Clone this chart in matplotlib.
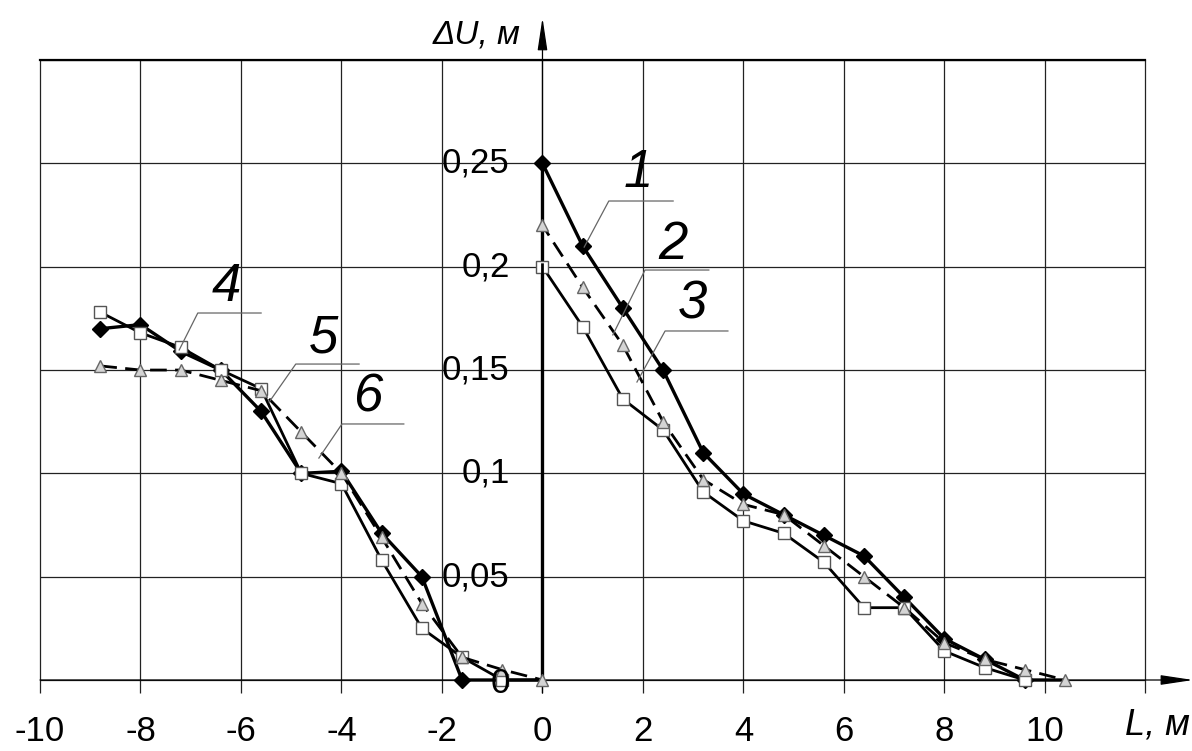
import matplotlib
matplotlib.use("Agg")
import matplotlib.pyplot as plt

plt.rcParams['font.family'] = ['Liberation Sans', 'DejaVu Sans']
plt.rcParams['axes.unicode_minus'] = False

# distances along the profile, m
L_right = [0.0, 0.8, 1.6, 2.4, 3.2, 4.0, 4.8, 5.6, 6.4, 7.2, 8.0, 8.8, 9.6, 10.4]
L_left = [-8.8, -8.0, -7.2, -6.4, -5.6, -4.8, -4.0, -3.2, -2.4, -1.6, -0.8, 0.0]

# right side curves 1-3
u1 = [0.25, 0.21, 0.18, 0.15, 0.11, 0.09, 0.08, 0.07, 0.06, 0.04, 0.02, 0.01, 0.0, 0.0]
u2 = [0.22, 0.19, 0.162, 0.125, 0.097, 0.085, 0.08, 0.065, 0.05, 0.035, 0.018, 0.01, 0.005, 0.0]
u3 = [0.20, 0.171, 0.136, 0.121, 0.091, 0.077, 0.071, 0.057, 0.035, 0.035, 0.014, 0.006, 0.0]

# left side curves 4-6
u4 = [0.178, 0.168, 0.161, 0.15, 0.141, 0.100, 0.095, 0.058, 0.025, 0.011, 0.0, 0.0]
u5 = [0.170, 0.172, 0.159, 0.150, 0.130, 0.100, 0.101, 0.071, 0.050, 0.0, 0.0, 0.0]
u6 = [0.152, 0.150, 0.150, 0.145, 0.140, 0.120, 0.100, 0.069, 0.037, 0.011, 0.005, 0.0]

x_ticks = [-10, -8, -6, -4, -2, 0, 2, 4, 6, 8, 10, 12]
x_ticklabels = ['-10', '-8', '-6', '-4', '-2', '0', '2', '4', '6', '8', '10', '']
y_grid = [0.0, 0.05, 0.1, 0.15, 0.2, 0.25, 0.3]
y_ticks = [0.25, 0.2, 0.15, 0.1, 0.05, 0.0]
y_ticklabels = ['0,25', '0,2', '0,15', '0,1', '0,05', '0']

# curve number, text position, leader line (end of shelf, knee, point on curve)
callouts = [
    ('1', (1.90, 0.2453), [(2.60, 0.2318), (1.32, 0.2318), (0.83, 0.2095)]),
    ('2', (2.60, 0.2105), [(3.31, 0.1984), (2.04, 0.1984), (1.40, 0.1670)]),
    ('3', (2.98, 0.1815), [(3.69, 0.1689), (2.44, 0.1689), (1.88, 0.1442)]),
    ('4', (-6.30, 0.1900), [(-5.60, 0.1776), (-6.86, 0.1776), (-7.23, 0.1597)]),
    ('5', (-4.35, 0.1655), [(-3.65, 0.1529), (-4.91, 0.1529), (-5.44, 0.1345)]),
    ('6', (-3.47, 0.1369), [(-2.76, 0.1239), (-3.99, 0.1239), (-4.45, 0.1074)]),
]

fig = plt.figure(figsize=(11.92, 7.51), dpi=100)
ax = fig.add_axes([0.03356, 0.0772, 0.9274, 0.8428])
ax.set_xlim(-10, 12)
ax.set_ylim(-0.0063, 0.3)
for s in ['left', 'right', 'bottom']:
    ax.spines[s].set_visible(False)
ax.spines['top'].set_linewidth(1.6)
ax.set_yticks([])
ax.set_xticks(x_ticks, x_ticklabels, fontsize=25)
ax.tick_params(axis='x', length=0, pad=16)

# grid drawn by hand so the vertical lines poke below zero
ax.vlines(x_ticks, -0.0063, 0.3, colors='#222222', lw=0.9, zorder=1, clip_on=False)
ax.hlines(y_grid, -10, 12, colors='#222222', lw=0.9, zorder=1, clip_on=False)

# axes with arrows
arr = dict(arrowstyle='-|>,head_length=1.0,head_width=0.15', lw=0.9, color='black',
           mutation_scale=20, shrinkA=0, shrinkB=0)
ax.annotate('', xy=(12.95, 0), xytext=(-10, 0), arrowprops=arr, annotation_clip=False, zorder=2)
ax.annotate('', xy=(0, 0.3205), xytext=(0, -0.0063), arrowprops=arr, annotation_clip=False, zorder=2)

# right curves start from zero on the axis
xr = [L_right[0]] + L_right
ax.plot(xr, [0] + u1, color='black', lw=2.4, marker='D', ms=8, mfc='black', mec='black',
        markevery=list(range(1, len(u1))), zorder=3, clip_on=False)
ax.plot(xr[:len(u3) + 1], [0] + u3, color='black', lw=2.0, marker='s', ms=8, mfc='white',
        mec='#555555', markevery=list(range(1, len(u3) + 1)), zorder=4, clip_on=False)
ax.plot(xr, [0] + u2, color='black', lw=2.0, ls=(0, (6, 3)), marker='^', ms=8.5, mfc='#d4d4d4',
        mec='#666666', markevery=list(range(1, len(u2) + 1)), zorder=5, clip_on=False)

# left curves
ax.plot(L_left, u5, color='black', lw=2.4, marker='D', ms=8, mfc='black', mec='black',
        markevery=list(range(0, 10)), zorder=3, clip_on=False)
ax.plot(L_left, u4, color='black', lw=2.0, marker='s', ms=8, mfc='white', mec='#555555',
        markevery=list(range(0, 11)), zorder=4, clip_on=False)
ax.plot(L_left, u6, color='black', lw=2.0, ls=(0, (6, 3)), marker='^', ms=8.5, mfc='#d4d4d4',
        mec='#666666', zorder=5, clip_on=False)

# y labels sit next to the axis line
for v, t in zip(y_ticks, y_ticklabels):
    ax.text(-0.65, v + (-0.0015 if v == 0 else 0), t, fontsize=25, ha='right', va='center',
            zorder=6)

# curve numbers with leaders
for num, (tx, ty), pts in callouts:
    ax.text(tx, ty, num, fontsize=38, style='italic', ha='center', va='center', zorder=6)
    ax.plot([p[0] for p in pts], [p[1] for p in pts], color='#666666', lw=0.9, zorder=6)

ax.text(-0.43, 0.3082, 'ΔU, м', fontsize=24, style='italic', ha='right', va='baseline',
        clip_on=False)
ax.text(11.59, -0.0262, 'L, м', fontsize=26, style='italic', ha='left', va='baseline',
        clip_on=False)

fig.savefig('out.png', dpi=100)
